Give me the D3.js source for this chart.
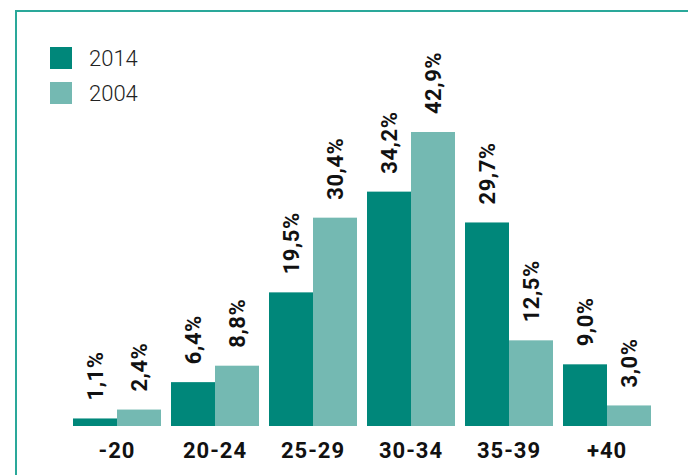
<!DOCTYPE html>
<html>
<head>
<meta charset="utf-8">
<script src="https://cdn.jsdelivr.net/npm/d3@7"></script>
<style>
  html, body { margin: 0; padding: 0; background: #fff; }
  svg { display: block; }
</style>
</head>
<body>
<svg id="chart" width="688" height="475"></svg>
<script>
const categories = ["-20", "20-24", "25-29", "30-34", "35-39", "+40"];
const seriesNames = ["2014", "2004"];
const values2014 = [1.1, 6.4, 19.5, 34.2, 29.7, 9.0];
const values2004 = [2.4, 8.8, 30.4, 42.9, 12.5, 3.0];
const colors = { "2014": "#00877a", "2004": "#74b9b2" };

const fmt = v => v.toFixed(1).replace(".", ",") + "%";

const svg = d3.select("#chart");
const W = 688, H = 475;
const baseY = 426;

// frame
svg.append("line").attr("x1", 15).attr("x2", W).attr("y1", 11).attr("y2", 11)
  .attr("stroke", "#2aa89a").attr("stroke-width", 2);
svg.append("line").attr("x1", 16).attr("x2", 16).attr("y1", 10).attr("y2", H)
  .attr("stroke", "#2aa89a").attr("stroke-width", 2);

const x0 = d3.scaleBand().domain(categories).range([68, 656])
  .paddingInner(10 / 98).paddingOuter(5 / 98);
const x1 = d3.scaleBand().domain(seriesNames).range([0, x0.bandwidth()]);
const y = d3.scaleLinear().domain([0, 50]).range([baseY, baseY - 50 * 6.853]);

const data = categories.map((c, i) => ({
  cat: c,
  vals: [{ s: "2014", v: values2014[i] }, { s: "2004", v: values2004[i] }]
}));

const groups = svg.append("g").selectAll("g").data(data).join("g")
  .attr("transform", d => `translate(${x0(d.cat)},0)`);

groups.selectAll("rect").data(d => d.vals).join("rect")
  .attr("x", d => x1(d.s))
  .attr("width", x1.bandwidth())
  .attr("y", d => y(d.v))
  .attr("height", d => baseY - y(d.v))
  .attr("fill", d => colors[d.s]);

groups.selectAll("text").data(d => d.vals).join("text")
  .attr("transform", d => `translate(${x1(d.s) + x1.bandwidth() / 2},${y(d.v) - 18}) rotate(-90)`)
  .attr("dy", "0.36em")
  .attr("text-anchor", "start")
  .attr("font-family", "Roboto, 'DejaVu Sans', sans-serif")
  .attr("font-weight", "bold")
  .attr("font-size", 22)
  .attr("letter-spacing", 0.5)
  .attr("fill", "#111")
  .text(d => fmt(d.v));

// x axis
const xAxis = svg.append("g").attr("transform", `translate(0,${baseY})`)
  .call(d3.axisBottom(x0).tickSize(0).tickPadding(32));
xAxis.select(".domain").remove();
xAxis.selectAll("text")
  .attr("font-family", "Roboto, 'DejaVu Sans', sans-serif")
  .attr("font-weight", "bold")
  .attr("font-size", 22)
  .attr("letter-spacing", 1)
  .attr("fill", "#111")
  .attr("dy", 0);

// legend
const legend = svg.append("g").selectAll("g").data(seriesNames).join("g")
  .attr("transform", (d, i) => `translate(50,${47 + i * 35})`);
legend.append("rect").attr("width", 22).attr("height", 22).attr("fill", d => colors[d]);
legend.append("text").attr("x", 39).attr("y", 19)
  .attr("font-family", "Roboto, 'DejaVu Sans', sans-serif")
  .attr("font-weight", 300)
  .attr("font-size", 22)
  .attr("fill", "#222")
  .text(d => d);
</script>
</body>
</html>
